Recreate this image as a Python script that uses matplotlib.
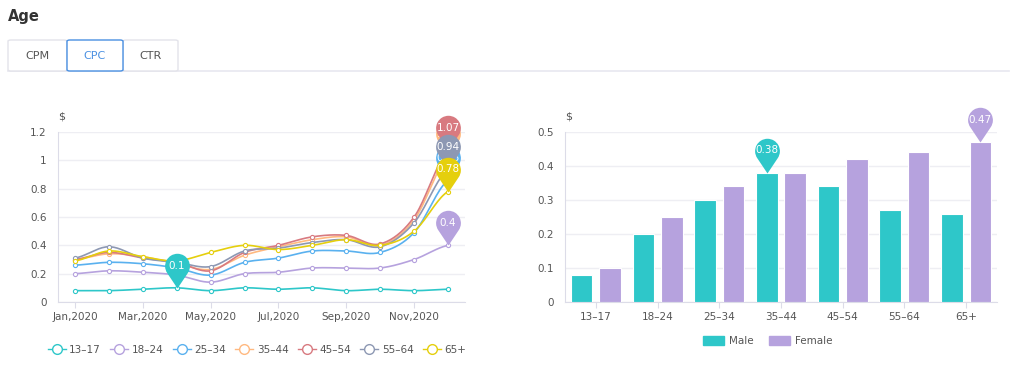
"""CPC by age: monthly lines per age band and male/female bars."""

import numpy as np
import matplotlib
matplotlib.use('Agg')
import matplotlib.pyplot as plt
from matplotlib.path import Path
from matplotlib.patches import FancyBboxPatch, Rectangle
from matplotlib.lines import Line2D

plt.rcParams['font.family'] = ['DejaVu Sans']

months = ['Jan,2020', 'Feb,2020', 'Mar,2020', 'Apr,2020', 'May,2020', 'Jun,2020',
          'Jul,2020', 'Aug,2020', 'Sep,2020', 'Oct,2020', 'Nov,2020', 'Dec,2020']
age_groups = ['13–17', '18–24', '25–34', '35–44', '45–54', '55–64', '65+']

cpc_13_17 = [0.08, 0.08, 0.09, 0.10, 0.08, 0.10, 0.09, 0.10, 0.08, 0.09, 0.08, 0.09]
cpc_18_24 = [0.20, 0.22, 0.21, 0.19, 0.14, 0.20, 0.21, 0.24, 0.24, 0.24, 0.30, 0.40]
cpc_25_34 = [0.26, 0.28, 0.27, 0.24, 0.19, 0.28, 0.31, 0.36, 0.36, 0.35, 0.49, 0.86]
cpc_35_44 = [0.30, 0.34, 0.32, 0.27, 0.23, 0.33, 0.39, 0.44, 0.46, 0.40, 0.58, 1.03]
cpc_45_54 = [0.30, 0.35, 0.31, 0.28, 0.22, 0.35, 0.40, 0.46, 0.47, 0.41, 0.60, 1.07]
cpc_55_64 = [0.31, 0.39, 0.31, 0.28, 0.25, 0.36, 0.38, 0.42, 0.44, 0.39, 0.56, 0.94]
cpc_65_plus = [0.29, 0.36, 0.32, 0.29, 0.35, 0.40, 0.37, 0.40, 0.44, 0.40, 0.50, 0.78]

male_cpc = [0.08, 0.20, 0.30, 0.38, 0.34, 0.27, 0.26]
female_cpc = [0.10, 0.25, 0.34, 0.38, 0.42, 0.44, 0.47]

line_series = [cpc_13_17, cpc_18_24, cpc_25_34, cpc_35_44, cpc_45_54, cpc_55_64, cpc_65_plus]
colors = ['#2ec7c9', '#b6a2de', '#5ab1ef', '#ffb980', '#d87a80', '#8d98b3', '#e5cf0d']
TEXT = '#555555'
GRID = '#eeeef3'
AXIS = '#dcdce8'

W, H = 1024, 387


def fx(px):
  return px / W


def fy(py):
  return 1 - py / H


def smooth(y, n=20):
  """Catmull-Rom curve through the points (only for drawing)."""
  y = np.asarray(y, float)
  x = np.arange(len(y), dtype=float)
  p = np.concatenate([[y[0]], y, [y[-1]]])
  xs, ys = [], []
  for i in range(len(y) - 1):
    t = np.linspace(0, 1, n, endpoint=False)
    p0, p1, p2, p3 = p[i], p[i + 1], p[i + 2], p[i + 3]
    yy = 0.5 * ((2 * p1) + (-p0 + p2) * t + (2 * p0 - 5 * p1 + 4 * p2 - p3) * t ** 2
                + (-p0 + 3 * p1 - 3 * p2 + p3) * t ** 3)
    xs.append(x[i] + t)
    ys.append(yy)
  xs.append([x[-1]])
  ys.append([y[-1]])
  return np.concatenate(xs), np.concatenate(ys)


def pin_path(d=1.8):
  """Pin shape with tip at origin and circle of radius 1 above it."""
  th = np.degrees(np.arccos(1 / d))
  arc = Path.arc(-90 + th, 270 - th)
  verts = [(0, 0)] + [(vx, vy + d) for vx, vy in arc.vertices] + [(0, 0), (0, 0)]
  codes = [Path.MOVETO] + [Path.LINETO] + list(arc.codes[1:]) + [Path.LINETO, Path.CLOSEPOLY]
  return Path(verts, codes)


PIN = pin_path()
PIN_MS = 50
# circle centre sits 1.8 radii above the tip
PIN_DY = PIN_MS / 2 / np.max(np.abs(PIN.vertices)) * 1.8


def add_pin(ax, x, y, color, label, z):
  ax.plot([x], [y], marker=PIN, markersize=PIN_MS, color=color, markeredgewidth=0,
          zorder=z, clip_on=False, linestyle='none')
  ax.annotate(label, (x, y), xytext=(0, PIN_DY), textcoords='offset points',
              ha='center', va='center', color='white', fontsize=7.5, zorder=z + 0.1,
              annotation_clip=False)


def style_axes(ax):
  for s in ['top', 'right']:
    ax.spines[s].set_visible(False)
  ax.spines['left'].set_color(AXIS)
  ax.spines['bottom'].set_color(AXIS)
  ax.grid(axis='y', color=GRID, linewidth=1)
  ax.set_axisbelow(True)
  ax.tick_params(axis='both', colors=AXIS, labelcolor=TEXT, labelsize=7.5, length=4)
  ax.tick_params(axis='y', length=0, pad=8)


fig = plt.figure(figsize=(W / 100, H / 100), dpi=100)

# header and tabs
fig.text(fx(8), fy(17), 'Age', fontsize=10.5, fontweight='bold', color='#333333',
         va='center', ha='left')
fig.add_artist(Line2D([fx(8), fx(1009)], [fy(71), fy(71)], color='#e8e8f0', linewidth=1.2))
tabs = [('CPM', 8, 67), ('CPC', 67, 123), ('CTR', 123, 178)]
for name, x0, x1 in tabs:
  active = name == 'CPC'
  box = FancyBboxPatch((fx(x0), fy(71)), fx(x1 - x0), fy(40) - fy(71),
                       boxstyle='round,pad=0,rounding_size=0.003', transform=fig.transFigure,
                       facecolor='white', edgecolor='#4a90e2' if active else '#e3e3ea',
                       linewidth=1.0, zorder=3 if active else 2)
  fig.add_artist(box)
  fig.text(fx((x0 + x1) / 2), fy(56), name, fontsize=8, ha='center', va='center',
           color='#4a90e2' if active else TEXT, zorder=4)

# line chart
ax1 = fig.add_axes([fx(58), fy(302), fx(465 - 58), fy(132) - fy(302)])
style_axes(ax1)
ax1.set_xlim(-0.5, 11.5)
ax1.set_ylim(0, 1.2)
ax1.set_yticks([0, 0.2, 0.4, 0.6, 0.8, 1.0, 1.2])
ax1.set_yticklabels(['0', '0.2', '0.4', '0.6', '0.8', '1', '1.2'])
ax1.set_xticks(range(0, 12, 2))
ax1.set_xticklabels(months[::2])
ax1.text(0, 1.09, '$', transform=ax1.transAxes, fontsize=8, color=TEXT, ha='left', va='center')

handles = []
for i, (vals, c) in enumerate(zip(line_series, colors)):
  xs, ys = smooth(vals)
  ax1.plot(xs, ys, color=c, linewidth=1.2, zorder=3 + i * 0.1)
  ax1.plot(range(12), vals, linestyle='none', marker='o', markersize=3,
           markerfacecolor='white', markeredgecolor=c, markeredgewidth=0.8, zorder=3.05 + i * 0.1)
  handles.append(Line2D([], [], color=c, linewidth=1, marker='o', markersize=7,
                        markerfacecolor='white', markeredgecolor=c, markeredgewidth=1))

for i, (vals, c) in enumerate(zip(line_series, colors)):
  k = int(np.argmax(vals))
  add_pin(ax1, k, vals[k], c, f'{vals[k]:g}', 10 + i)

fig.legend(handles, age_groups, loc='center', bbox_to_anchor=(fx(257), fy(350)), ncol=7,
           frameon=False, fontsize=7.5, labelcolor=TEXT, handlelength=1.7,
           handletextpad=0.35, columnspacing=0.9)

# bar chart
ax2 = fig.add_axes([fx(565), fy(302), fx(997 - 565), fy(132) - fy(302)])
style_axes(ax2)
ax2.set_xlim(-0.5, len(age_groups) - 0.5)
ax2.set_ylim(0, 0.5)
ax2.set_yticks([0, 0.1, 0.2, 0.3, 0.4, 0.5])
ax2.set_yticklabels(['0', '0.1', '0.2', '0.3', '0.4', '0.5'])
ax2.set_xticks(range(len(age_groups)))
ax2.set_xticklabels(age_groups)
ax2.text(0, 1.09, '$', transform=ax2.transAxes, fontsize=8, color=TEXT, ha='left', va='center')

x = np.arange(len(age_groups))
bw = 0.35
off = 0.23
ax2.bar(x - off, male_cpc, bw, color=colors[0], edgecolor='white', linewidth=0.8,
        zorder=3, label='Male')
ax2.bar(x + off, female_cpc, bw, color=colors[1], edgecolor='white', linewidth=0.8,
        zorder=3, label='Female')
km = int(np.argmax(male_cpc))
kf = int(np.argmax(female_cpc))
add_pin(ax2, km - off, male_cpc[km], colors[0], f'{male_cpc[km]:g}', 10)
add_pin(ax2, kf + off, female_cpc[kf], colors[1], f'{female_cpc[kf]:g}', 11)

fig.legend([Rectangle((0, 0), 1, 1, color=colors[0]), Rectangle((0, 0), 1, 1, color=colors[1])],
           ['Male', 'Female'], loc='center', bbox_to_anchor=(fx(768), fy(341)), ncol=2,
           frameon=False, fontsize=7.5, labelcolor=TEXT, handlelength=2.0, handleheight=1.0,
           handletextpad=0.5, columnspacing=1.5)

fig.savefig('out.png', dpi=100, facecolor='white')
